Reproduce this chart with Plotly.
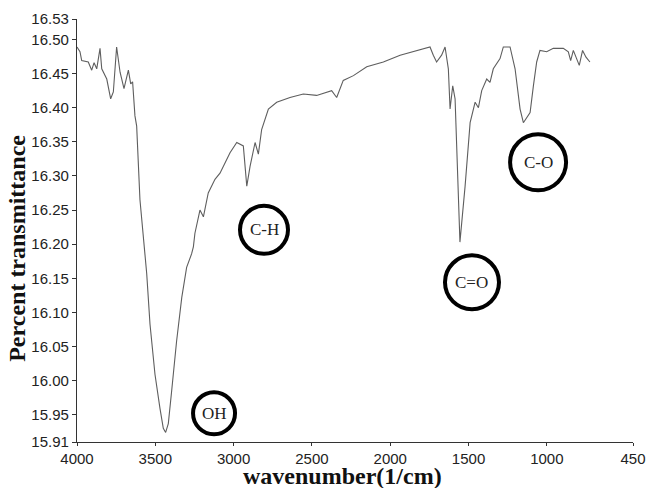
import plotly.graph_objects as go

wavenumber = [4000, 3981, 3970, 3928, 3906, 3891, 3874, 3853, 3842, 3821, 3810, 3785, 3768, 3747,
              3725, 3700, 3672, 3657, 3645, 3630, 3619, 3598, 3577, 3572, 3555, 3534, 3502, 3470,
              3449, 3434, 3417, 3396, 3364, 3331, 3300, 3268, 3257, 3247, 3215, 3193, 3162, 3130,
              3119, 3087, 3066, 3023, 2980, 2959, 2938, 2916, 2895, 2863, 2842, 2821, 2778, 2725,
              2640, 2555, 2470, 2374, 2342, 2300, 2235, 2150, 2044, 1937, 1852, 1768, 1746, 1725,
              1704, 1672, 1650, 1629, 1618, 1601, 1586, 1555, 1522, 1490, 1458, 1437, 1416, 1384,
              1363, 1342, 1299, 1278, 1235, 1203, 1171, 1150, 1129, 1107, 1086, 1065, 1044, 1001,
              959, 895, 863, 848, 831, 810, 793, 772, 750, 725]
transmittance = [16.489, 16.482, 16.469, 16.467, 16.455, 16.466, 16.457, 16.487, 16.457, 16.447,
                 16.442, 16.413, 16.423, 16.489, 16.452, 16.428, 16.455, 16.435, 16.438, 16.388,
                 16.373, 16.265, 16.216, 16.206, 16.157, 16.083, 16.009, 15.959, 15.930, 15.924,
                 15.937, 15.984, 16.058, 16.122, 16.166, 16.186, 16.196, 16.216, 16.250, 16.240,
                 16.275, 16.290, 16.295, 16.304, 16.314, 16.334, 16.349, 16.346, 16.344, 16.285,
                 16.314, 16.349, 16.332, 16.368, 16.398, 16.408, 16.415, 16.420, 16.418, 16.425,
                 16.415, 16.440, 16.447, 16.460, 16.467, 16.477, 16.482, 16.487, 16.489, 16.477,
                 16.467, 16.477, 16.489, 16.457, 16.398, 16.432, 16.413, 16.203, 16.285, 16.378,
                 16.408, 16.400, 16.425, 16.442, 16.437, 16.457, 16.472, 16.489, 16.489, 16.457,
                 16.398, 16.378, 16.386, 16.393, 16.432, 16.467, 16.484, 16.482, 16.487, 16.487,
                 16.482, 16.469, 16.484, 16.472, 16.462, 16.484, 16.474, 16.467]

x_ticks = [4000, 3500, 3000, 2500, 2000, 1500, 1000, 450]
y_ticks = [15.91, 15.95, 16.00, 16.05, 16.10, 16.15, 16.20, 16.25, 16.30, 16.35, 16.40, 16.45, 16.50, 16.53]
y_tick_text = ["%.2f" % v for v in y_ticks]

group_labels = ["OH", "C-H", "C=O", "C-O"]
label_x = [3125, 2806, 1478, 1056]
label_y = [15.952, 16.221, 16.144, 16.320]
label_r = [21, 24, 27, 28]

x_title = "wavenumber(1/cm)"
y_title = "Percent transmittance"

fig = go.Figure()
fig.add_trace(go.Scatter(x=wavenumber, y=transmittance, mode="lines",
                         line=dict(color="#5e5e5e", width=1.1), showlegend=False))

for lab, lx, ly, r in zip(group_labels, label_x, label_y, label_r):
    fig.add_shape(type="circle", xref="x", yref="y", xsizemode="pixel", ysizemode="pixel",
                  xanchor=lx, yanchor=ly, x0=-r, x1=r, y0=-r, y1=r,
                  line=dict(color="black", width=4))
    fig.add_annotation(x=lx, y=ly, text=lab, showarrow=False,
                       font=dict(family="Liberation Serif", size=17, color="#222"))

fig.add_annotation(xref="paper", yref="paper", x=0.477, y=-0.046, xanchor="center", yanchor="top",
                   text="<b>%s</b>" % x_title, showarrow=False,
                   font=dict(family="Liberation Serif", size=24, color="#111"))
fig.add_annotation(xref="paper", yref="paper", x=-0.108, y=0.459, xanchor="center", yanchor="middle",
                   text="<b>%s</b>" % y_title, showarrow=False, textangle=-90,
                   font=dict(family="Liberation Serif", size=24, color="#111"))

fig.update_layout(
    width=649, height=488,
    margin=dict(l=77, r=16, t=19, b=46, autoexpand=False),
    paper_bgcolor="white", plot_bgcolor="white",
    font=dict(family="Liberation Sans", size=15, color="#222"),
    xaxis=dict(range=[4000, 450], tickvals=x_ticks, ticktext=[str(v) for v in x_ticks],
               automargin=False,
               showgrid=False, zeroline=False, showline=True, linecolor="#333", linewidth=1.2,
               ticks="outside", ticklen=3, tickcolor="#333",
               tickfont=dict(family="Liberation Sans", size=15, color="#222")),
    yaxis=dict(range=[15.91, 16.53], tickvals=y_ticks, ticktext=y_tick_text,
               automargin=False,
               showgrid=False, zeroline=False, showline=True, linecolor="#333", linewidth=1.2,
               ticks="outside", ticklen=4, tickcolor="#333",
               tickfont=dict(family="Liberation Sans", size=15, color="#222")),
)

fig.write_html("out.html", config={"displayModeBar": False},
               post_script="document.body.style.margin='0px';document.body.style.overflow='hidden';")
